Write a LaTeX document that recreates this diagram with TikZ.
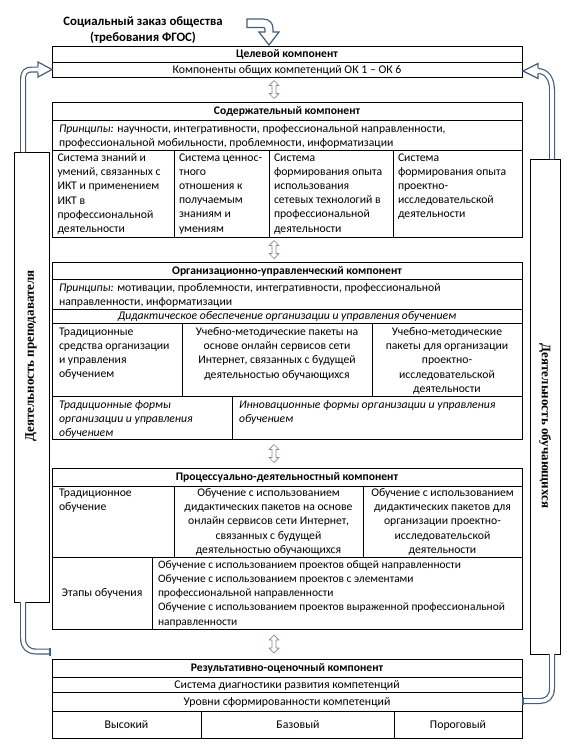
\documentclass[tikz,border=0pt]{standalone}
\usepackage{fontspec}
\setmainfont{Carlito}
\newfontfamily\vserif{Liberation Serif}
\usetikzlibrary{calc}
\definecolor{pipec}{RGB}{68,94,128}
\definecolor{darrc}{RGB}{125,138,158}
\newcommand\udarr[1]{\draw[da, shift={(#1)}] (0,-9) -- (5,-4) -- (2,-4) -- (2,4) -- (5,4) -- (0,9) -- (-5,4) -- (-2,4) -- (-2,-4) -- (-5,-4) -- cycle;}
\begin{document}
\begin{tikzpicture}[x=1pt, y=-1pt, line width=0.8pt,
  every node/.style={inner sep=0pt, outer sep=0pt},
  box/.style={draw, line width=0.8pt, anchor=north west},
  ml/.style={font=\fontsize{11.7}{14.2}\selectfont, execute at begin node=\strut, align=left, anchor=north west, yshift=-2.5pt},
  mc/.style={font=\fontsize{11.7}{14.2}\selectfont, execute at begin node=\strut, align=center, anchor=north, yshift=-2.5pt},
  one/.style={font=\fontsize{11.8}{14}\selectfont, text height=8pt, text depth=1pt},
  hd/.style={text height=8pt, text depth=1pt, font=\bfseries\fontsize{11.6}{14}\selectfont},
  pipe/.style={draw=pipec, line width=1.2pt, double=white, double distance=3.6pt},
  head/.style={draw=pipec, line width=1.2pt, fill=white, line join=miter},
  da/.style={draw=darrc, line width=0.7pt, fill=white, line join=round},
  vt/.style={font=\vserif\bfseries\fontsize{13}{15}\selectfont}]
\useasboundingbox (0,0) rectangle (576,747);
\fill[white] (0,0) rectangle (576,747);

% top label and bent arrow
\node[align=center, font=\bfseries\fontsize{12.8}{16}\selectfont] (soc) at (143,30) {Социальный заказ общества\\(требования ФГОС)};
\draw[head] (247,19) -- (263,19) .. controls (269.5,19) and (273,23) .. (273,29) -- (273,32) -- (279,32) -- (269,45) -- (259,32) -- (265,32) -- (265,29.5) .. controls (265,28) and (264.5,27.5) .. (263,27.5) -- (247,27.5) -- cycle;

% ---------- Целевой компонент
\node[box, minimum width=470pt, minimum height=31pt] (goal) at (52,46) {};
\draw (52,62) -- (522,62);
\node[hd] (goalt) at (287,54) {Целевой компонент};
\node[one] (goalr) at (287,69.5) {Компоненты общих компетенций ОК 1 – ОК 6};

% ---------- Содержательный компонент
\node[box, minimum width=470pt, minimum height=135pt] (cont) at (52,102) {};
\draw (52,120) -- (522,120) (52,150) -- (522,150);
\draw (174,150) -- (174,237) (269,150) -- (269,237) (393,150) -- (393,237);
\node[hd] (contt) at (287,111) {Содержательный компонент};
\node[ml] (contp) at (59,122) {\textit{Принципы:} научности, интегративности, профессиональной направленности,\\профессиональной мобильности, проблемности, информатизации};
\node[ml] (c1) at (57.5,151) {Система знаний и\\умений, связанных с\\ИКТ и применением\\ИКТ в\\профессиональной\\деятельности};
\node[ml] (c2) at (179,151) {Система ценнос-\\тного\\отношения к\\получаемым\\знаниям и\\умениям};
\node[ml] (c3) at (274,151) {Система\\формирования опыта\\использования\\сетевых технологий в\\профессиональной\\деятельности};
\node[ml] (c4) at (398,151) {Система\\формирования опыта\\проектно-\\исследовательской\\деятельности};

% ---------- Организационно-управленческий компонент
\node[box, minimum width=470pt, minimum height=177pt] (org) at (52,262) {};
\draw (52,279) -- (522,279) (52,309) -- (522,309) (52,323) -- (522,323) (52,396) -- (522,396);
\draw (182,323) -- (182,396) (372,323) -- (372,396) (232,396) -- (232,439);
\node[hd] (orgt) at (287,270.5) {Организационно-управленческий компонент};
\node[ml] (orgp) at (59,281) {\textit{Принципы:} мотивации, проблемности, интегративности, профессиональной\\направленности, информатизации};
\node[one, font=\itshape\fontsize{11.7}{14}\selectfont] (orgd) at (287,316) {Дидактическое обеспечение организации и управления обучением};
\node[ml] (o1) at (59,325) {Традиционные\\средства организации\\и управления\\обучением};
\node[mc] (o2) at (277,325) {Учебно-методические пакеты на\\основе онлайн сервисов сети\\Интернет, связанных с будущей\\деятельностью обучающихся};
\node[mc] (o3) at (447,325) {Учебно-методические\\пакеты для организации\\проектно-\\исследовательской\\деятельности};
\node[ml, font=\itshape\fontsize{11.7}{14.2}\selectfont] (o4) at (59,398) {Традиционные формы\\организации и управления\\обучением};
\node[ml, font=\itshape\fontsize{11.7}{14.2}\selectfont] (o5) at (239,398) {Инновационные формы организации и управления\\обучением};

% ---------- Процессуально-деятельностный компонент
\node[box, minimum width=470pt, minimum height=161pt] (proc) at (52,468) {};
\draw (52,486) -- (522,486) (52,557) -- (522,557);
\draw (174,486) -- (174,557) (363,486) -- (363,557) (152,557) -- (152,629);
\node[hd] (proct) at (287,477) {Процессуально-деятельностный компонент};
\node[ml] (p1) at (59,486) {Традиционное\\обучение};
\node[mc] (p2) at (268.5,486) {Обучение с использованием\\дидактических пакетов на основе\\онлайн сервисов сети Интернет,\\связанных с будущей\\деятельностью обучающихся};
\node[mc] (p3) at (442.5,486) {Обучение с использованием\\дидактических пакетов для\\организации проектно-\\исследовательской\\деятельности};
\node[one] (p4) at (102,593) {Этапы обучения};
\node[ml, font=\fontsize{11.4}{14.2}\selectfont] (p5) at (158,558) {Обучение с использованием проектов общей направленности\\Обучение с использованием проектов с элементами\\профессиональной направленности\\Обучение с использованием проектов выраженной профессиональной\\направленности};

% ---------- Результативно-оценочный компонент
\node[box, minimum width=470pt, minimum height=79pt] (res) at (52,659) {};
\draw (52,677) -- (522,677) (52,692) -- (522,692) (52,711) -- (522,711);
\draw (201.5,711) -- (201.5,738) (394,711) -- (394,738);
\node[hd] (rest) at (287,668) {Результативно-оценочный компонент};
\node[one] (res1) at (287,684.5) {Система диагностики развития компетенций};
\node[one] (res2) at (287,701.5) {Уровни сформированности компетенций};
\node[one] (lv1) at (126.5,724.5) {Высокий};
\node[one] (lv2) at (298,724.5) {Базовый};
\node[one] (lv3) at (458,724.5) {Пороговый};

% ---------- small double arrows between components
\coordinate (m1) at ($(goal.south)!0.5!(cont.north)+(-13,0)$);
\coordinate (m2) at ($(cont.south)!0.5!(org.north)+(-13,0)$);
\coordinate (m3) at ($(org.south)!0.5!(proc.north)+(-13,0)$);
\coordinate (m4) at ($(proc.south)!0.5!(res.north)+(-13,0)$);
\udarr{m1}\udarr{m2}\udarr{m3}\udarr{m4}

% ---------- side boxes
\node[box, minimum width=35pt, minimum height=450pt] (lbox) at (14,152) {};
\node[box, minimum width=30pt, minimum height=495pt] (rbox) at (530,159) {};
\node[vt, rotate=90] (ltext) at (31,356) {Деятельность преподавателя};
\node[vt, rotate=-90] (rtext) at (545,426) {Деятельность обучающихся};

% ---------- pipes
\coordinate (lt) at ([xshift=-8.5pt]lbox.north);
\coordinate (lb) at ([xshift=-8.5pt]lbox.south);
\coordinate (rt) at ([xshift=7pt]rbox.north);
\coordinate (rb) at ([xshift=7pt]rbox.south);
\coordinate (gl) at (52,69.5);
\coordinate (gr) at (523,71);
\coordinate (resl) at (50,651.5);
\coordinate (resr) at (523,701);

\draw[pipe] (lt) -- (23,80) .. controls (23,72) and (26,69.5) .. (32,69.5) -- (38,69.5);
\draw[head, fill=none] (38,66.5) -- (38,62) -- (gl) -- (38,77) -- (38,72.5);
\draw[pipe] (rt) -- (552,90) .. controls (552,78) and (546,71) .. (538,71);
\draw[head, fill=none] (538,68) -- (538,63.5) -- (gr) -- (538,78.5) -- (538,74);
\draw[pipe] (lb) -- (23,638) .. controls (23,647) and (28,651.5) .. (36,651.5) -- (resl);
\draw[draw=pipec, line width=1.2pt] (50,647.5) -- (50,655.5);
\draw[pipe] (rb) -- (552,688) .. controls (552,697) and (547,701) .. (540,701) -- (resr);
\draw[draw=pipec, line width=1.2pt] (523,697) -- (523,705);
\end{tikzpicture}
\end{document}
